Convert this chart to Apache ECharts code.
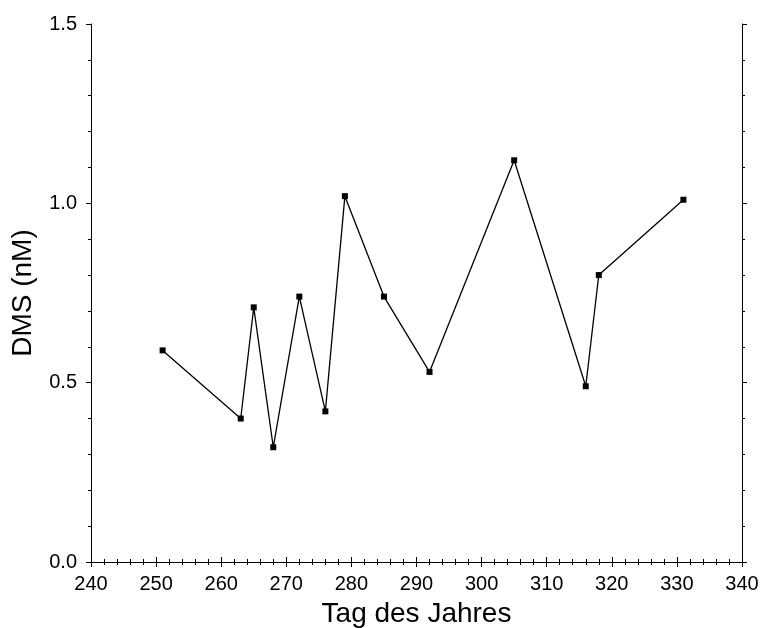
<!DOCTYPE html>
<html>
<head>
<meta charset="utf-8">
<script src="https://cdn.jsdelivr.net/npm/echarts@6/dist/echarts.min.js"></script>
<style>
html,body{margin:0;padding:0;background:#fff;}
#chart{width:763px;height:628px;}
</style>
</head>
<body>
<div id="chart"></div>
<script>
const days = [251, 263, 265, 268, 272, 276, 279, 285, 292, 305, 316, 318, 331];
const dms = [0.59, 0.40, 0.71, 0.32, 0.74, 0.42, 1.02, 0.74, 0.53, 1.12, 0.49, 0.80, 1.01];
const xTitle = 'Tag des Jahres';
const yTitle = 'DMS (nM)';

const points = days.map((d, i) => [d, dms[i]]);
const FONT = '"Liberation Sans", Arial, Helvetica, sans-serif';

const axisLine = { show: true, lineStyle: { color: '#000', width: 1 } };
const majorTick = { show: true, length: 5, inside: false, lineStyle: { color: '#000', width: 1 } };
const minorTick = { show: true, splitNumber: 5, length: 3, lineStyle: { color: '#000', width: 1 } };

const chart = echarts.init(document.getElementById('chart'), null, { renderer: 'canvas' });
chart.setOption({
  backgroundColor: '#fff',
  animation: false,
  grid: { left: 91, right: 21, top: 24, bottom: 66, containLabel: false, outerBoundsMode: 'none' },
  xAxis: [
    {
      type: 'value', min: 240, max: 340, interval: 10, position: 'bottom',
      axisLine, axisTick: majorTick, minorTick, splitLine: { show: false },
      axisLabel: { color: '#000', fontSize: 20, fontFamily: FONT, margin: 12 },
      name: xTitle, nameLocation: 'middle', nameGap: 38,
      nameTextStyle: { color: '#000', fontSize: 28, fontFamily: FONT }
    },
    {
      type: 'value', min: 240, max: 340, interval: 10, position: 'top',
      axisLine, axisTick: majorTick, minorTick, splitLine: { show: false },
      axisLabel: { show: false }
    }
  ],
  yAxis: [
    {
      type: 'value', min: 0, max: 1.5, interval: 0.5, position: 'left',
      axisLine, axisTick: majorTick, minorTick, splitLine: { show: false },
      axisLabel: { color: '#000', fontSize: 20, fontFamily: FONT, margin: 14,
        formatter: v => v.toFixed(1) },
      name: yTitle, nameLocation: 'middle', nameGap: 54, nameRotate: 90,
      nameTextStyle: { color: '#000', fontSize: 28, fontFamily: FONT }
    },
    {
      type: 'value', min: 0, max: 1.5, interval: 0.5, position: 'right',
      axisLine, axisTick: majorTick, minorTick, splitLine: { show: false },
      axisLabel: { show: false }
    }
  ],
  series: [{
    type: 'line',
    data: points,
    xAxisIndex: 0, yAxisIndex: 0,
    symbol: 'rect', symbolSize: 6,
    itemStyle: { color: '#000' },
    lineStyle: { color: '#000', width: 1.3 }
  }]
});
</script>
</body>
</html>
